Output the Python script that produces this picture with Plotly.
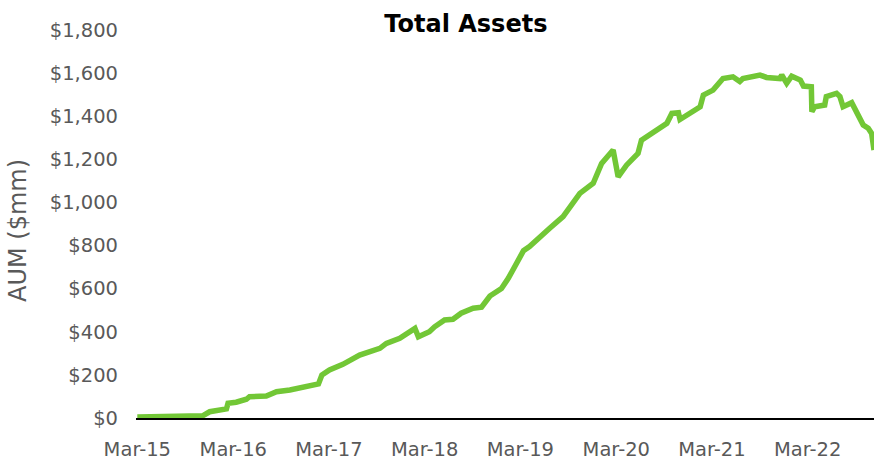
import plotly.graph_objects as go

dates = [
    "2015-03-01", "2015-08-09", "2015-11-05", "2015-12-02", "2016-02-04", "2016-02-10",
    "2016-03-12", "2016-04-20", "2016-05-02", "2016-07-05", "2016-08-13", "2016-10-03",
    "2016-11-23", "2017-01-20", "2017-02-02", "2017-03-03", "2017-04-23", "2017-06-26",
    "2017-09-11", "2017-10-06", "2017-11-26", "2018-01-23", "2018-02-05", "2018-03-19",
    "2018-04-08", "2018-05-16", "2018-06-17", "2018-07-18", "2018-09-02", "2018-10-04",
    "2018-11-05", "2018-12-19", "2019-01-14", "2019-02-02", "2019-02-24", "2019-03-13",
    "2019-04-05", "2019-05-13", "2019-06-21", "2019-08-11", "2019-10-14", "2019-12-04",
    "2020-01-05", "2020-02-18", "2020-03-08", "2020-04-09", "2020-05-23", "2020-06-05",
    "2020-07-07", "2020-09-10", "2020-09-29", "2020-10-24", "2020-10-30", "2021-01-02",
    "2021-01-15", "2021-01-27", "2021-03-05", "2021-04-12", "2021-05-20", "2021-06-15",
    "2021-06-27", "2021-08-31", "2021-09-25", "2021-11-15", "2021-11-22", "2021-12-11",
    "2021-12-30", "2022-02-01", "2022-02-13", "2022-03-15", "2022-03-17", "2022-03-28",
    "2022-05-05", "2022-05-11", "2022-06-19", "2022-07-02", "2022-07-14", "2022-08-16",
    "2022-09-10", "2022-09-29", "2022-10-18", "2022-10-31", "2022-11-09",
]
aum = [
    5, 5, 10, 29, 42, 68,
    73, 87, 99, 102, 122, 130,
    145, 158, 199, 223, 249, 292,
    323, 346, 370, 416, 377, 400,
    423, 455, 458, 486, 509, 514,
    566, 601, 648, 694, 741, 776,
    795, 841, 880, 934, 1042, 1089,
    1181, 1243, 1119, 1173, 1228, 1289,
    1313, 1367, 1413, 1416, 1385, 1429,
    1444, 1498, 1521, 1575, 1583, 1561,
    1575, 1591, 1580, 1575, 1591, 1553,
    1586, 1568, 1540, 1537, 1421, 1444,
    1452, 1491, 1506, 1491, 1444, 1463,
    1398, 1359, 1344, 1320, 1243,
]

tick_dates = ["2015-03-01", "2016-03-01", "2017-03-01", "2018-03-01",
              "2019-03-01", "2020-03-01", "2021-03-01", "2022-03-01"]
tick_labels = ["Mar-15", "Mar-16", "Mar-17", "Mar-18", "Mar-19", "Mar-20", "Mar-21", "Mar-22"]
y_ticks = [0, 200, 400, 600, 800, 1000, 1200, 1400, 1600, 1800]
y_labels = ["$0", "$200", "$400", "$600", "$800", "$1,000", "$1,200", "$1,400", "$1,600", "$1,800"]

fig = go.Figure(go.Scatter(
    x=dates, y=aum, mode="lines",
    line=dict(color="#72C736", width=5.5),
))

gray = "#595959"
font = "DejaVu Sans"

fig.update_layout(
    width=874, height=460,
    margin=dict(l=136, r=0, t=30, b=42),
    plot_bgcolor="white", paper_bgcolor="white",
    showlegend=False,
    title=dict(text="<b>Total Assets</b>", x=0.447, xref="paper", xanchor="center",
               y=1 - 24 / 460, yref="container", yanchor="middle",
               font=dict(family=font, size=24, color="black")),
    xaxis=dict(
        type="date", range=["2015-02-24", "2022-11-09"],
        tickvals=tick_dates, ticktext=tick_labels,
        showgrid=False, zeroline=False,
        showline=True, linecolor="black", linewidth=1.5, layer="below traces",
        ticks="", ticklabelstandoff=13,
        tickfont=dict(family=font, size=19.5, color=gray),
    ),
    yaxis=dict(
        range=[0, 1800], tickvals=y_ticks, ticktext=y_labels,
        showgrid=False, zeroline=False, showline=False,
        ticks="", ticklabelstandoff=17,
        tickfont=dict(family=font, size=19.5, color=gray),
    ),
    annotations=[dict(
        text="AUM ($mm)", textangle=-90, showarrow=False,
        xref="paper", yref="paper", x=(18 - 136) / 738, y=(418 - 231) / 388,
        xanchor="center", yanchor="middle",
        font=dict(family=font, size=24, color=gray),
    )],
)

fig.write_html("out.html",
               config={"displayModeBar": False},
               post_script="document.body.style.margin='0';document.body.style.overflow='hidden';")
